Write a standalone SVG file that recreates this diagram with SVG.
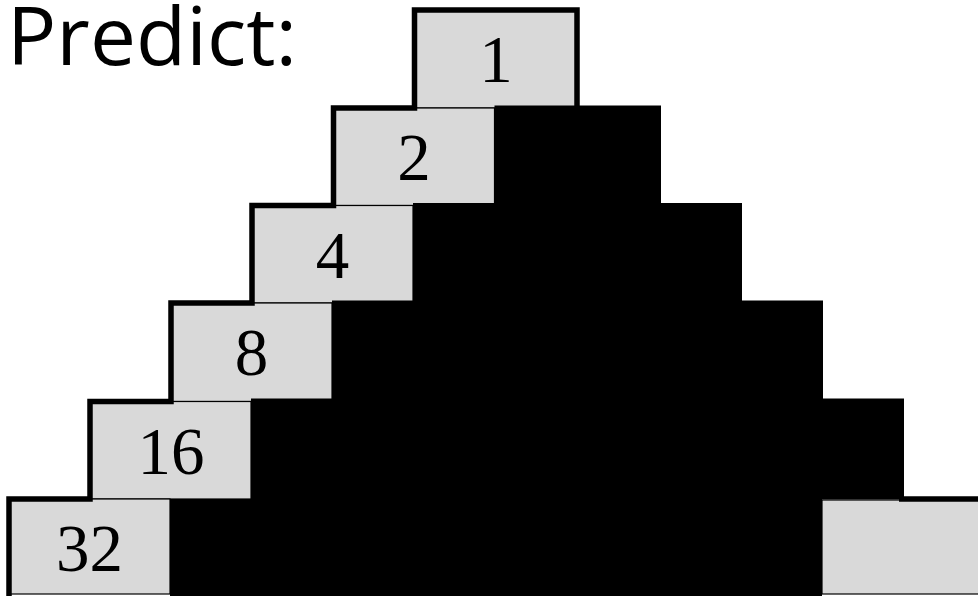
<svg xmlns="http://www.w3.org/2000/svg" width="978" height="596" viewBox="0 0 978 596">
<style>
.g{fill:#d9d9d9;stroke:#000;stroke-width:1.2}
.b{fill:#000}
.n{font-family:"Liberation Serif","DejaVu Serif",serif;font-size:67px;fill:#000;text-anchor:middle}
.t{font-family:"Open Sans","Noto Sans",sans-serif;font-size:80px;fill:#000}
.o{fill:none;stroke:#000;stroke-width:5.5;stroke-linejoin:miter}
</style>
<rect width="978" height="596" fill="#fff"/>
<text class="t" x="7" y="65" textLength="290" lengthAdjust="spacingAndGlyphs">Predict:</text>
<g id="box1"><rect class="g" x="414.5" y="10" width="162.5" height="98"/></g>
<g id="box2"><rect class="g" x="333.5" y="108" width="161" height="97.5"/><rect class="b" x="494.5" y="105.5" width="166.5" height="100"/></g>
<g id="box4"><rect class="g" x="252" y="205.5" width="161" height="97.5"/><rect class="b" x="413" y="203" width="329" height="100"/></g>
<g id="box8"><rect class="g" x="171" y="303" width="161" height="98.5"/><rect class="b" x="332" y="300.5" width="491" height="101"/></g>
<g id="box16"><rect class="g" x="90" y="401.5" width="161" height="97.5"/><rect class="b" x="251" y="398.5" width="653" height="101"/></g>
<g id="box32"><rect class="g" x="9" y="499" width="161" height="95"/><rect class="b" x="170" y="499" width="652" height="97"/></g>
<g id="boxright"><rect class="g" x="822" y="500" width="160" height="94"/><line x1="899" y1="499" x2="978" y2="499" stroke="#000" stroke-width="5.5"/></g>
<g id="outline"><path class="o" d="M9 596V499H90V401.5H171V303H252V205.5H333.5V108H414.5V10H577V106"/></g>
<g id="labels">
<text class="n" x="496" y="82">1</text>
<text class="n" x="414" y="180">2</text>
<text class="n" x="332.5" y="277.5">4</text>
<text class="n" x="251.5" y="375">8</text>
<text class="n" x="171" y="473.5">16</text>
<text class="n" x="89.5" y="571">32</text>
</g>
</svg>
